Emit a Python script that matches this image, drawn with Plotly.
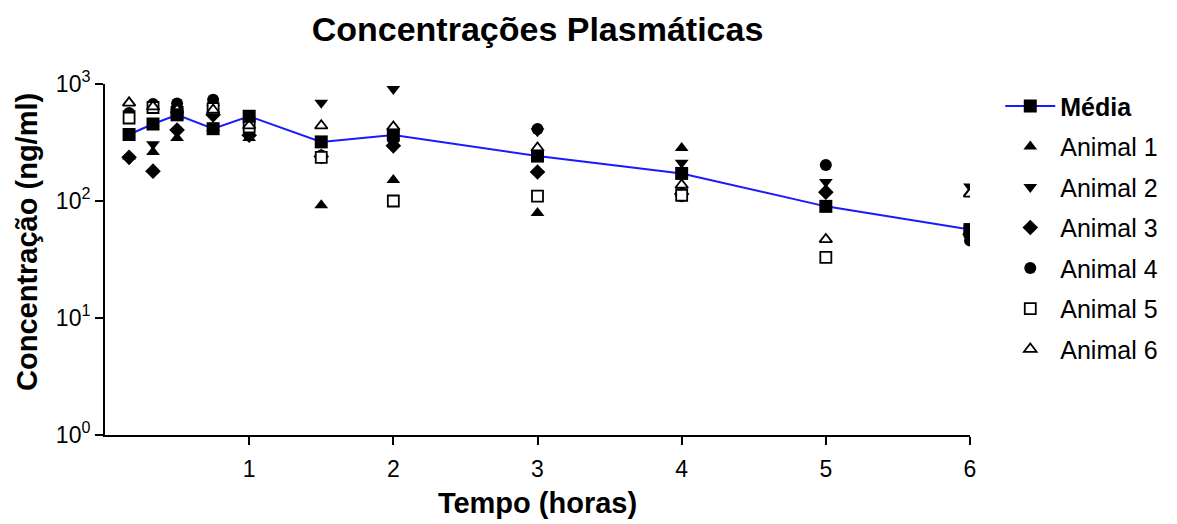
import plotly.graph_objects as go

# Time points (hours)
tempo = [0.167, 0.333, 0.5, 0.75, 1, 1.5, 2, 3, 4, 5, 6]

# Concentrations (ng/ml)
media   = [370, 455, 545, 415, 530, 320, 366, 242, 172, 90, 57]
animal1 = [240, 262, 345, 420, 345, 92, 151, 79, 284, None, 118]
animal2 = [560, 305, 610, 625, 470, 690, 905, 395, 212, 145, 133]
animal3 = [236, 180, 405, 545, 365, 240, 296, 177, 115, 119, 52]
animal4 = [565, 675, 680, 735, 520, 245, 335, 413, 110, 203, 46]
animal5 = [512, 630, 560, 615, 430, 236, 100, 110, 112, 33, 55]
animal6 = [690, 640, 600, 600, 440, 440, 430, 284, 137, 47, 115]

names = ["Animal 1", "Animal 2", "Animal 3", "Animal 4", "Animal 5", "Animal 6"]
series = [animal1, animal2, animal3, animal4, animal5, animal6]
symbols = ["triangle-up", "triangle-down", "diamond", "circle", "square", "triangle-up"]
fills = ["black", "black", "black", "black", "white", "white"]
sizes = [12, 12, 12, 12, 11, 11]

FONT = "Liberation Sans, Arial, Helvetica, sans-serif"

fig = go.Figure()
for i, (nm, ys, sym, fc, sz) in enumerate(zip(names, series, symbols, fills, sizes)):
    fig.add_trace(go.Scatter(
        x=tempo, y=ys, mode="markers", name=nm,
        legendgroup=nm, legendrank=i + 2,
        marker=dict(symbol=sym, size=sz, color=fc,
                    line=dict(color="black", width=1.8 if fc == "white" else 0)),
    ))

fig.add_trace(go.Scatter(
    x=tempo, y=media, mode="lines+markers", name="<b>Média</b>",
    legendgroup="media", legendrank=1,
    line=dict(color="#1a1aff", width=2),
    marker=dict(symbol="square", size=13, color="black"),
))

fig.update_layout(
    width=1177, height=524,
    margin=dict(l=105, r=207, t=84, b=89),
    paper_bgcolor="white", plot_bgcolor="white",
    font=dict(family=FONT, color="black"),
    title=dict(text="<b>Concentrações Plasmáticas</b>", x=0.5, xref="paper",
               xanchor="center", y=0.945, yref="container", yanchor="middle",
               font=dict(size=34, family=FONT, color="black")),
    showlegend=True,
    legend=dict(x=1.035, y=1.002, xanchor="left", yanchor="top",
                font=dict(size=25, family=FONT, color="black"),
                traceorder="grouped", tracegroupgap=5, itemwidth=50,
                maxheight=450,
                bgcolor="rgba(0,0,0,0)"),
    annotations=[dict(
        text="<b>Concentração (ng/ml)</b>", textangle=-90,
        xref="paper", yref="paper", x=-0.0902, y=0.55,
        xanchor="center", yanchor="middle", showarrow=False,
        font=dict(size=29, family=FONT, color="black"),
    )],
)

fig.update_xaxes(
    range=[0, 6], tickvals=[1, 2, 3, 4, 5, 6], ticktext=["1", "2", "3", "4", "5", "6"],
    showline=True, linecolor="black", linewidth=2, mirror=False,
    ticks="outside", ticklen=8, tickwidth=2, tickcolor="black",
    showgrid=False, zeroline=False, ticklabelstandoff=4,
    tickfont=dict(size=23, family=FONT, color="black"),
    title=dict(text="<b>Tempo (horas)</b>", font=dict(size=29, family=FONT, color="black"),
               standoff=12),
    automargin=False,
)
fig.update_yaxes(
    type="log", range=[0, 3],
    tickvals=[1, 10, 100, 1000],
    ticktext=["10<sup>0</sup>", "10<sup>1</sup>", "10<sup>2</sup>", "10<sup>3</sup>"],
    showline=True, linecolor="black", linewidth=2,
    ticks="outside", ticklen=8, tickwidth=2, tickcolor="black",
    showgrid=False, zeroline=False,
    tickfont=dict(size=23, family=FONT, color="black"),
    automargin=False,
)

fig.write_html("out.html")
